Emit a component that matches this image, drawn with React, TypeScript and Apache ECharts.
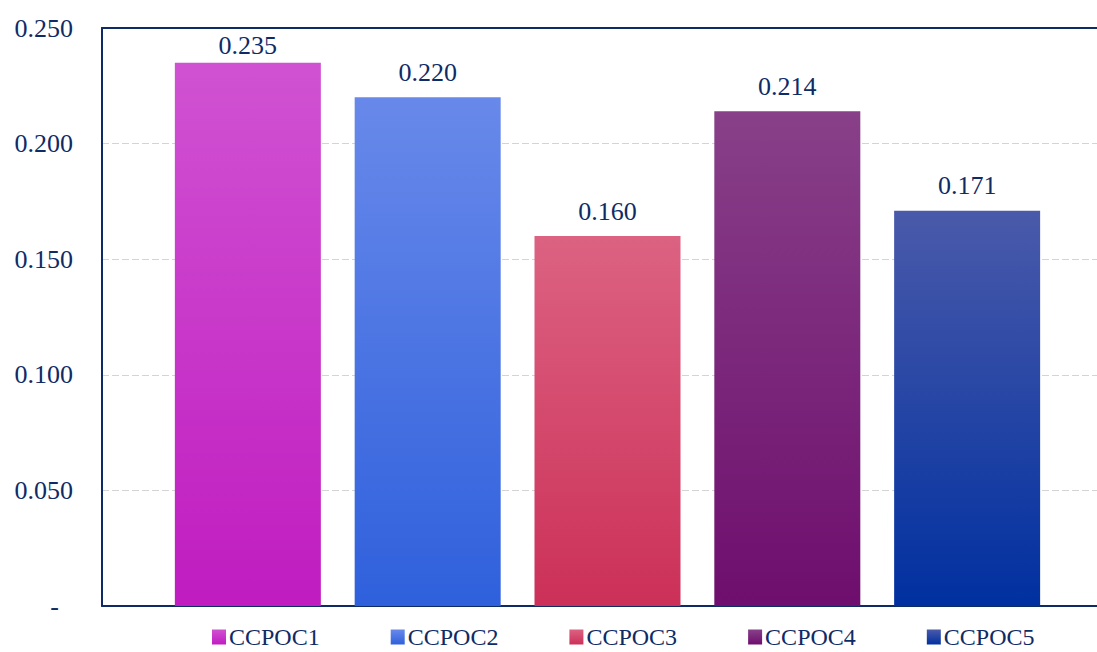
import React, { useEffect, useRef } from "react";
import * as echarts from "echarts";

const categories = ["CCPOC1", "CCPOC2", "CCPOC3", "CCPOC4", "CCPOC5"];
const values = [0.235, 0.22, 0.16, 0.214, 0.171];
const yTicks = [0, 0.05, 0.1, 0.15, 0.2, 0.25];

const colorsTop = ["#d052d2", "#6889ea", "#dc6282", "#884088", "#4a5aaa"];
const colorsBottom = ["#c01cc0", "#2f60dc", "#cc3058", "#6e0e6e", "#0030a0"];
const labelDistances = [4, 12, 12, 12, 12];

const NAVY = "#0f2b66";
const FONT = "'Liberation Serif', 'Times New Roman', serif";

export default function App() {
  const ref = useRef<HTMLDivElement>(null);
  useEffect(() => {
    if (!ref.current) return;
    const chart = echarts.init(ref.current, null, { renderer: "svg" });
    const xMin = -0.8111;
    const xMax = 4.7222;
    const series = categories.map((name, i) => ({
      name,
      type: "bar",
      xAxisIndex: 0,
      yAxisIndex: 0,
      barWidth: 146,
      barGap: "-100%",
      data: [[i, values[i]]],
      itemStyle: {
        color: new echarts.graphic.LinearGradient(0, 0, 0, 1, [
          { offset: 0, color: colorsTop[i] },
          { offset: 1, color: colorsBottom[i] },
        ]),
      },
      label: {
        show: true,
        position: "top",
        distance: labelDistances[i],
        color: NAVY,
        fontFamily: FONT,
        fontSize: 26,
        formatter: (p: any) => Number(p.value[1]).toFixed(3),
      },
    }));
    chart.setOption({
      animation: false,
      grid: { left: 102, right: 0, top: 28, bottom: 46, containLabel: false },
      legend: {
        data: categories,
        left: 212,
        top: 625,
        padding: 0,
        icon: "rect",
        itemWidth: 14,
        itemHeight: 15,
        itemGap: 71,
        textStyle: { color: NAVY, fontFamily: FONT, fontSize: 24, padding: [0, 0, 0, -2] },
      },
      xAxis: [
        {
          type: "value",
          min: xMin,
          max: xMax,
          position: "bottom",
          axisLine: { show: true, onZero: false, lineStyle: { color: NAVY, width: 2 } },
          axisTick: { show: false },
          axisLabel: { show: false },
          splitLine: { show: false },
        },
        {
          type: "value",
          min: xMin,
          max: xMax,
          position: "top",
          axisLine: { show: true, onZero: false, lineStyle: { color: NAVY, width: 2 } },
          axisTick: { show: false },
          axisLabel: { show: false },
          splitLine: { show: false },
        },
      ],
      yAxis: {
        type: "value",
        min: yTicks[0],
        max: yTicks[yTicks.length - 1],
        interval: 0.05,
        position: "left",
        axisLine: { show: true, onZero: false, lineStyle: { color: NAVY, width: 2 } },
        axisTick: { show: false },
        splitLine: { show: true, lineStyle: { color: "#d4d4d4", type: [7, 3], width: 1 } },
        axisLabel: {
          margin: 29,
          color: NAVY,
          fontFamily: FONT,
          fontSize: 26,
          formatter: (v: number) => (v === 0 ? "{z|-}" : v.toFixed(3)),
          rich: {
            z: { color: NAVY, fontFamily: FONT, fontSize: 26, padding: [0, 14, 0, 0] },
          },
        },
      },
      series,
    });
    return () => chart.dispose();
  }, []);
  return <div ref={ref} style={{ width: 1097, height: 652, position: "absolute", left: 0, top: 0 }} />;
}
